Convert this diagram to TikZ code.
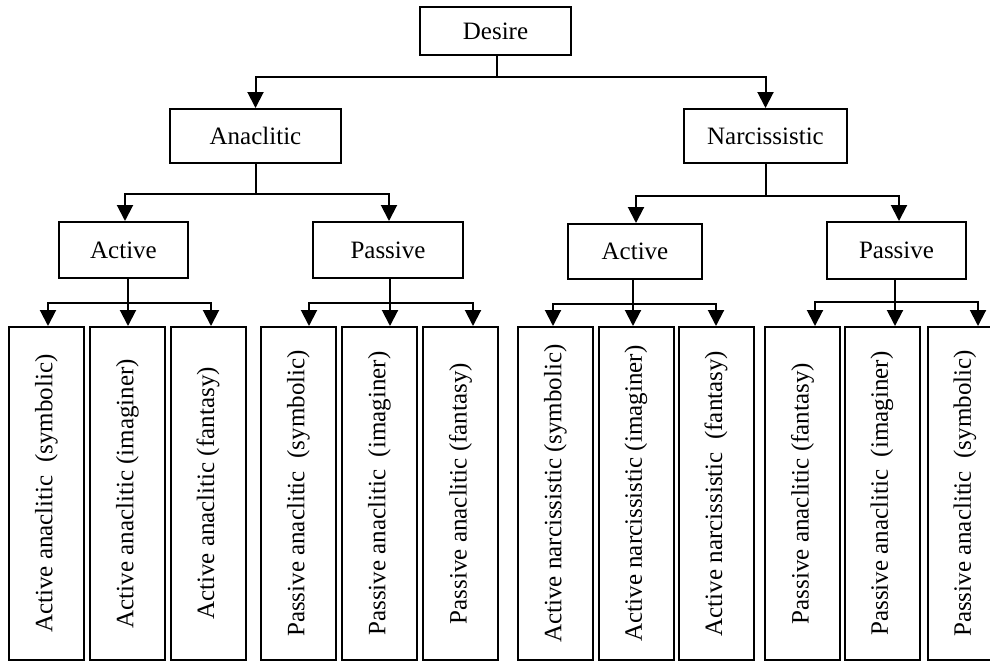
\documentclass[tikz,border=0pt]{standalone}
\usepackage{fontspec}
\setmainfont{Liberation Serif}
\usetikzlibrary{arrows.meta}
\newcommand\vtxt[1]{\rotatebox{90}{\raisebox{-3pt}{#1}}}
\begin{document}
\begin{tikzpicture}[x=1pt,y=1pt,
  box/.style={draw, line width=2pt, inner sep=0pt, align=center,
              font=\fontsize{25}{30}\selectfont},
  leaf/.style={box, minimum width=75pt, minimum height=333pt},
  arr/.style={line width=2pt, -{Triangle[width=16pt,length=16pt]}},
]
\clip (0,0) rectangle (990,-662);
% top levels
\node[box, minimum width=151pt, minimum height=48pt] (des) at (495.5,-31) {Desire};
\node[box, minimum width=171pt, minimum height=54pt] (ana) at (255.5,-136) {Anaclitic};
\node[box, minimum width=163pt, minimum height=54pt] (nar) at (765.5,-136) {Narcissistic};
\node[box, minimum width=129pt, minimum height=56pt] (aL) at (123.5,-250) {Active};
\node[box, minimum width=150pt, minimum height=56pt] (pL) at (388,-250) {Passive};
\node[box, minimum width=134pt, minimum height=55pt] (aR) at (635,-251.5) {Active};
\node[box, minimum width=139pt, minimum height=57pt] (pR) at (896.5,-250.5) {Passive};
% leaves
\node[leaf] (b1)  at (46.5,-493.5)  {\vtxt{Active anaclitic\ \ (symbolic)}};
\node[leaf] (b2)  at (127.5,-493.5) {\vtxt{Active anaclitic (imaginer)}};
\node[leaf] (b3)  at (208,-493.5)   {\vtxt{Active anaclitic (fantasy)}};
\node[leaf] (b4)  at (298.5,-493.5) {\vtxt{Passive anaclitic\ \ (symbolic)}};
\node[leaf] (b5)  at (379.5,-493.5) {\vtxt{Passive anaclitic\ \ (imaginer)}};
\node[leaf] (b6)  at (460.5,-493.5) {\vtxt{Passive anaclitic (fantasy)}};
\node[leaf] (b7)  at (555.5,-493.5) {\vtxt{Active narcissistic (symbolic)}};
\node[leaf] (b8)  at (636,-493.5)   {\vtxt{Active narcissistic (imaginer)}};
\node[leaf] (b9)  at (716,-493.5)   {\vtxt{Active narcissistic\ \ (fantasy)}};
\node[leaf] (b10) at (802.5,-493.5) {\vtxt{Passive anaclitic (fantasy)}};
\node[leaf] (b11) at (882,-493.5)   {\vtxt{Passive anaclitic\ \ (imaginer)}};
\node[leaf] (b12) at (965,-493.5)   {\vtxt{Passive anaclitic\ \ (symbolic)}};
% connectors level 1
\draw[arr] ([xshift=1.5pt]des.south) -- ++(0,-21) -| (ana.north);
\draw[arr] ([xshift=1.5pt]des.south) -- ++(0,-21) -| (nar.north);
% level 2
\draw[arr] (ana.south) -- ++(0,-30) -| ([xshift=1.5pt]aL.north);
\draw[arr] (ana.south) -- ++(0,-30) -| ([xshift=1pt]pL.north);
\draw[arr] (nar.south) -- ++(0,-32) -| ([xshift=1pt]aR.north);
\draw[arr] (nar.south) -- ++(0,-32) -| ([xshift=2.5pt]pR.north);
% level 3
\draw[arr] ([xshift=4.5pt]aL.south) -- ++(0,-24) -| ([xshift=1.5pt]b1.north);
\draw[arr] ([xshift=4.5pt]aL.south) -- ++(0,-24) -| ([xshift=0.5pt]b2.north);
\draw[arr] ([xshift=4.5pt]aL.south) -- ++(0,-24) -| ([xshift=3pt]b3.north);
\draw[arr] ([xshift=2pt]pL.south) -- ++(0,-24) -| ([xshift=10.5pt]b4.north);
\draw[arr] ([xshift=2pt]pL.south) -- ++(0,-24) -| ([xshift=10.5pt]b5.north);
\draw[arr] ([xshift=2pt]pL.south) -- ++(0,-24) -| ([xshift=12.5pt]b6.north);
\draw[arr] ([xshift=-2pt]aR.south) -- ++(0,-24) -| ([xshift=-2.5pt]b7.north);
\draw[arr] ([xshift=-2pt]aR.south) -- ++(0,-24) -| ([xshift=-3pt]b8.north);
\draw[arr] ([xshift=-2pt]aR.south) -- ++(0,-24) -| (b9.north);
\draw[arr] ([xshift=-1.5pt]pR.south) -- ++(0,-22) -| ([xshift=12.5pt]b10.north);
\draw[arr] ([xshift=-1.5pt]pR.south) -- ++(0,-22) -| ([xshift=13pt]b11.north);
\draw[arr] ([xshift=-1.5pt]pR.south) -- ++(0,-22) -| ([xshift=13pt]b12.north);
\end{tikzpicture}
\end{document}
